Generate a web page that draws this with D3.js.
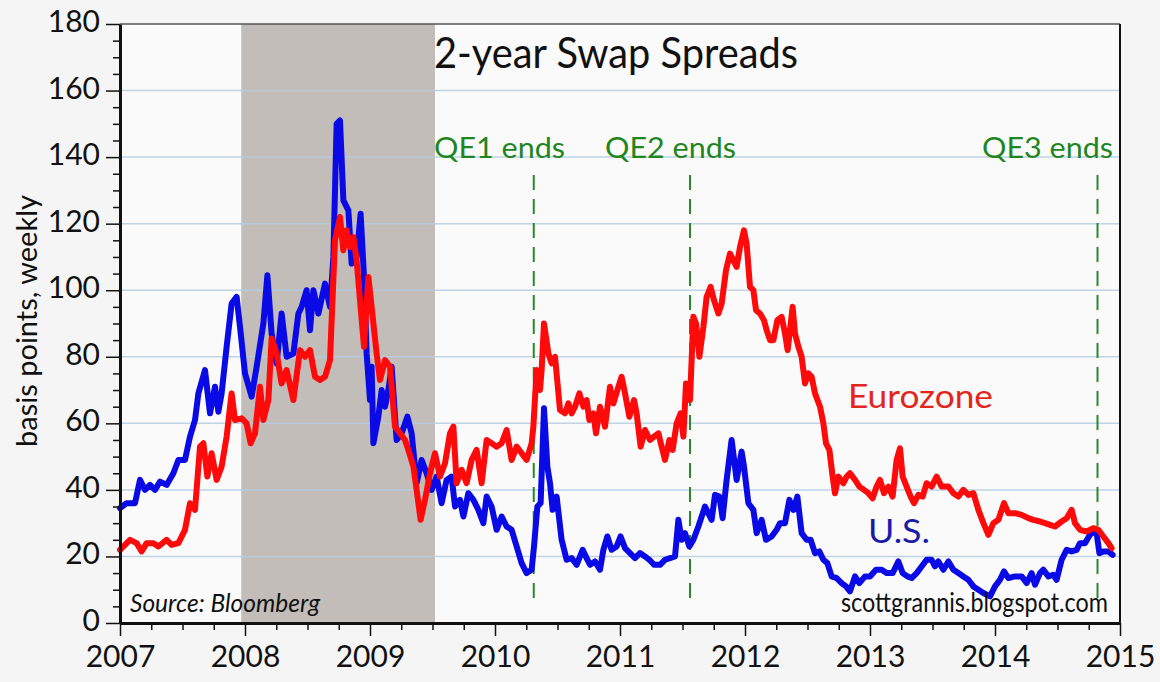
<!DOCTYPE html>
<html>
<head>
<meta charset="utf-8">
<script src="https://cdn.jsdelivr.net/npm/d3@7"></script>
<style>
  body { margin: 0; background: #f5f5f5; }
  svg { display: block; }
</style>
</head>
<body>
<script>
// values: [decimal year, basis points]
const usSeries = [
  [2007.000,34.5],[2007.053,36],[2007.120,36],[2007.160,43],[2007.200,40],[2007.240,41.5],[2007.280,40],[2007.320,42.5],
  [2007.373,41.5],[2007.427,45],[2007.467,49],[2007.520,49],[2007.560,56],[2007.600,61],[2007.627,69],[2007.680,76],
  [2007.720,63],[2007.760,71],[2007.787,63.5],[2007.813,69],[2007.853,83],[2007.893,96],[2007.933,98],[2007.960,89],
  [2008.000,75],[2008.053,68],[2008.093,77],[2008.147,90],[2008.179,104.5],[2008.213,87],[2008.253,78],[2008.293,93],
  [2008.333,80],[2008.387,81],[2008.427,93],[2008.453,95],[2008.493,100],[2008.520,88],[2008.547,100],[2008.587,93],
  [2008.640,102],[2008.680,95],[2008.707,110],[2008.733,150],[2008.760,151],[2008.787,127],[2008.827,124],[2008.853,108],
  [2008.893,110],[2008.925,123],[2008.952,104],[2008.973,81],[2009.000,67],[2009.013,77],[2009.027,54],[2009.067,62],
  [2009.093,70],[2009.120,65],[2009.147,70],[2009.173,77],[2009.213,55],[2009.253,57],[2009.299,62],[2009.333,57],
  [2009.373,42],[2009.413,49],[2009.453,45],[2009.493,40],[2009.533,44],[2009.573,36],[2009.613,43],[2009.653,44],
  [2009.680,35],[2009.720,37],[2009.747,32],[2009.787,39],[2009.827,37],[2009.867,34],[2009.907,30],[2009.933,38],
  [2009.973,35],[2010.013,28],[2010.053,32],[2010.093,29],[2010.133,28],[2010.173,23],[2010.213,18],[2010.253,15],
  [2010.293,16],[2010.312,23],[2010.339,35],[2010.365,36],[2010.392,64.5],[2010.419,47],[2010.440,42],[2010.461,34],
  [2010.493,38],[2010.533,25],[2010.573,19],[2010.613,19.5],[2010.653,17.5],[2010.701,22],[2010.733,19.5],[2010.760,17.5],
  [2010.800,18.5],[2010.840,16],[2010.867,22],[2010.899,26],[2010.933,22],[2010.973,23],[2011.005,26],[2011.040,22.5],
  [2011.080,21],[2011.120,19.5],[2011.160,21],[2011.200,20],[2011.235,19],[2011.272,17.5],[2011.320,17.5],[2011.360,19],
  [2011.400,19.5],[2011.440,20],[2011.467,31],[2011.493,25],[2011.520,27],[2011.555,23],[2011.587,25],[2011.627,29],
  [2011.680,35],[2011.733,31],[2011.760,38.5],[2011.795,38],[2011.821,31.5],[2011.853,43],[2011.893,55],[2011.933,43],
  [2011.973,51.5],[2011.992,47],[2012.027,36],[2012.067,34],[2012.093,27],[2012.133,31],[2012.168,25],[2012.213,26],
  [2012.253,28],[2012.280,30],[2012.320,30],[2012.355,37],[2012.387,34],[2012.419,38],[2012.453,27],[2012.493,25],
  [2012.525,25],[2012.560,21],[2012.595,21.5],[2012.627,19],[2012.659,18],[2012.693,14],[2012.733,13.5],[2012.773,12],
  [2012.808,11],[2012.840,9.5],[2012.880,14],[2012.915,12],[2012.960,14],[2013.000,14],[2013.048,16],[2013.093,16],
  [2013.133,15],[2013.181,15],[2013.227,18.5],[2013.261,15],[2013.299,14],[2013.333,13.5],[2013.373,15],[2013.413,17],
  [2013.453,19],[2013.493,19],[2013.520,17],[2013.547,18.5],[2013.587,16],[2013.627,18.5],[2013.667,16],[2013.707,15],
  [2013.747,14],[2013.787,13],[2013.827,11],[2013.867,10],[2013.907,9],[2013.960,8],[2014.000,11],[2014.040,13],
  [2014.072,15.5],[2014.107,13.5],[2014.160,14],[2014.213,14],[2014.253,12],[2014.293,15],[2014.320,11.5],[2014.360,15],
  [2014.387,16],[2014.427,14],[2014.467,14.5],[2014.493,13],[2014.533,19],[2014.573,22],[2014.613,21.5],[2014.653,22],
  [2014.680,24],[2014.720,24],[2014.760,26.5],[2014.792,27.5],[2014.813,27],[2014.835,21],[2014.867,21.5],[2014.907,21.5],
  [2014.941,20.5]
];

const euSeries = [
  [2007.000,22],[2007.080,25],[2007.133,24],[2007.173,21.5],[2007.213,24],[2007.267,24],[2007.307,23],[2007.373,25],
  [2007.413,23.5],[2007.467,24],[2007.520,28],[2007.560,36],[2007.600,34],[2007.640,53],[2007.667,54],[2007.699,44],
  [2007.733,51],[2007.773,43],[2007.813,47],[2007.853,56],[2007.893,69],[2007.920,61],[2007.973,61.5],[2008.013,60],
  [2008.045,54],[2008.080,57],[2008.120,71],[2008.147,61],[2008.187,67],[2008.213,85.5],[2008.253,81],[2008.293,72],
  [2008.333,76],[2008.387,67],[2008.440,82],[2008.480,80],[2008.520,82],[2008.560,74],[2008.600,73],[2008.640,74],
  [2008.680,79],[2008.720,115],[2008.760,122],[2008.787,112],[2008.813,118],[2008.840,113],[2008.867,116],[2008.893,109],
  [2008.920,97],[2008.952,83],[2008.987,104],[2009.013,95],[2009.053,81],[2009.080,73],[2009.120,79],[2009.160,77],
  [2009.200,59],[2009.240,57],[2009.280,55],[2009.307,52],[2009.347,47],[2009.373,40],[2009.405,31],[2009.440,37],
  [2009.480,45],[2009.520,51],[2009.560,44],[2009.600,48],[2009.640,57],[2009.667,59],[2009.693,42],[2009.733,46],
  [2009.773,42],[2009.813,49],[2009.853,52],[2009.893,42],[2009.933,55],[2009.973,54],[2010.013,53],[2010.053,54],
  [2010.093,58],[2010.133,49],[2010.173,53],[2010.213,51],[2010.253,49],[2010.293,54],[2010.307,59],[2010.333,76],
  [2010.360,70],[2010.373,76],[2010.392,90],[2010.427,81],[2010.453,78],[2010.480,80],[2010.520,64],[2010.560,63],
  [2010.587,66],[2010.613,63],[2010.640,65],[2010.675,69],[2010.707,65],[2010.733,67],[2010.755,61],[2010.787,63],
  [2010.808,57],[2010.840,65],[2010.880,59],[2010.920,71],[2010.947,66],[2010.979,70],[2011.013,74],[2011.040,69],
  [2011.075,62],[2011.112,67],[2011.133,63],[2011.165,53],[2011.200,58],[2011.240,55],[2011.272,56],[2011.307,57],
  [2011.333,53],[2011.360,49],[2011.395,55],[2011.421,52],[2011.453,60],[2011.485,63],[2011.507,56],[2011.528,72],
  [2011.560,67],[2011.587,92],[2011.608,90],[2011.635,80],[2011.667,89],[2011.693,98],[2011.725,101],[2011.752,97],
  [2011.787,93],[2011.813,96],[2011.848,106],[2011.880,111],[2011.933,107],[2011.960,113],[2011.992,118],[2012.013,114],
  [2012.040,101],[2012.067,100],[2012.088,94],[2012.120,93],[2012.152,91],[2012.173,88],[2012.200,85],[2012.227,85],
  [2012.259,91],[2012.293,92],[2012.320,87],[2012.341,82],[2012.360,88],[2012.381,95],[2012.400,87],[2012.427,83],
  [2012.453,80],[2012.480,72],[2012.507,75],[2012.533,74],[2012.560,69],[2012.600,65],[2012.627,60],[2012.648,54],
  [2012.675,52],[2012.701,44],[2012.720,39],[2012.747,44],[2012.787,42],[2012.813,44],[2012.840,45],[2012.880,43],
  [2012.915,41],[2012.952,40],[2012.987,39],[2013.021,37.5],[2013.053,41],[2013.080,43],[2013.112,39],[2013.147,41],
  [2013.181,38],[2013.213,49],[2013.240,52.5],[2013.261,44],[2013.293,41],[2013.325,38],[2013.352,36],[2013.387,38.5],
  [2013.421,38],[2013.453,42],[2013.493,41],[2013.533,44],[2013.573,41],[2013.627,41],[2013.667,39],[2013.707,38],
  [2013.747,40],[2013.787,38.5],[2013.827,39],[2013.867,34],[2013.907,30],[2013.947,26.5],[2013.987,30],[2014.027,31],
  [2014.072,36],[2014.107,33],[2014.160,33],[2014.213,32.5],[2014.267,31.5],[2014.307,31],[2014.360,30.5],[2014.400,30],
  [2014.440,29.5],[2014.480,29],[2014.533,30.5],[2014.573,31.5],[2014.613,34],[2014.640,30],[2014.680,28],[2014.733,27.5],
  [2014.787,28.5],[2014.827,28],[2014.867,26],[2014.907,24],[2014.933,22.5]
];

const yearTicks = [2007, 2008, 2009, 2010, 2011, 2012, 2013, 2014, 2015];
const valueTicks = [0, 20, 40, 60, 80, 100, 120, 140, 160, 180];
const recession = [2007.97, 2009.52];
const qeDates = [2010.31, 2011.56, 2014.82];
const qeLabels = ["QE1 ends", "QE2 ends", "QE3 ends"];

// layout
const W = 1160, H = 682;
const FONT = "Lato, 'DejaVu Sans', sans-serif";
const qeLabelStart = [434, 605, 982];

const x = d3.scaleLinear().domain([2007, 2015]).range([120, 1120]);
const y = d3.scaleLinear().domain([0, 180]).range([623, 24]);

const svg = d3.select("body").append("svg").attr("width", W).attr("height", H);

svg.append("rect").attr("width", W).attr("height", H).attr("fill", "#f5f5f5");
svg.append("rect")
    .attr("x", x(2007)).attr("y", y(180))
    .attr("width", x(2015) - x(2007)).attr("height", y(0) - y(180))
    .attr("fill", "#fafafa");

// recession shading
svg.append("rect")
    .attr("x", x(recession[0])).attr("y", y(180))
    .attr("width", x(recession[1]) - x(recession[0]))
    .attr("height", y(0) - y(180))
    .attr("fill", "#c3bdb9");

// gridlines
svg.append("g").selectAll("line")
    .data(valueTicks.filter(v => v > 0 && v < 180))
    .join("line")
    .attr("x1", x(2007)).attr("x2", x(2015))
    .attr("y1", d => y(d)).attr("y2", d => y(d))
    .attr("stroke", "#b5cde2").attr("stroke-opacity", 0.85).attr("stroke-width", 1.5);

// frame top and right
svg.append("line").attr("x1", x(2007)).attr("x2", x(2015)).attr("y1", y(180)).attr("y2", y(180))
    .attr("stroke", "#555").attr("stroke-width", 1.5);
svg.append("line").attr("x1", x(2015)).attr("x2", x(2015)).attr("y1", y(180)).attr("y2", y(0))
    .attr("stroke", "#111").attr("stroke-width", 2);

// QE lines
svg.append("g").selectAll("line")
    .data(qeDates)
    .join("line")
    .attr("x1", d => x(d)).attr("x2", d => x(d))
    .attr("y1", 175).attr("y2", 606)
    .attr("stroke", "#2a8a2a").attr("stroke-width", 2)
    .attr("stroke-dasharray", "15,9");

const line = d3.line().x(d => x(d[0])).y(d => y(d[1]));

svg.append("path").datum(usSeries)
    .attr("d", line).attr("fill", "none")
    .attr("stroke", "#0a0ae6").attr("stroke-width", 6)
    .attr("stroke-linejoin", "round").attr("stroke-linecap", "round");

svg.append("path").datum(euSeries)
    .attr("d", line).attr("fill", "none")
    .attr("stroke", "#ff0a0a").attr("stroke-width", 6)
    .attr("stroke-linejoin", "round").attr("stroke-linecap", "round");

// axes
const minorY = d3.range(0, 181, 5).filter(v => v % 20 !== 0);
const minorX = d3.range(2007, 2015, 0.25).filter(v => v % 1 !== 0);

svg.append("g").attr("transform", `translate(${x(2007)},0)`)
    .call(d3.axisLeft(y).tickValues(minorY).tickSize(7).tickFormat(""))
    .call(g => g.select(".domain").remove())
    .call(g => g.selectAll("line").attr("stroke", "#111").attr("stroke-width", 1.5));

const yAxis = svg.append("g").attr("transform", `translate(${x(2007)},0)`)
    .call(d3.axisLeft(y).tickValues(valueTicks).tickSize(14).tickPadding(6).tickSizeOuter(0));
yAxis.select(".domain").attr("stroke", "#111").attr("stroke-width", 3);
yAxis.selectAll("line").attr("stroke", "#111").attr("stroke-width", 1.5);
yAxis.selectAll("text")
    .attr("font-family", FONT).attr("font-size", 30).attr("fill", "#111")
    .attr("dy", "0.25em");

svg.append("g").attr("transform", `translate(0,${y(0)})`)
    .call(d3.axisBottom(x).tickValues(minorX).tickSize(7).tickFormat(""))
    .call(g => g.select(".domain").remove())
    .call(g => g.selectAll("line").attr("stroke", "#111").attr("stroke-width", 1.5));

const xAxis = svg.append("g").attr("transform", `translate(0,${y(0)})`)
    .call(d3.axisBottom(x).tickValues(yearTicks).tickSize(13).tickSizeOuter(0).tickFormat(d3.format("d")));
xAxis.select(".domain").attr("stroke", "#111").attr("stroke-width", 3);
xAxis.selectAll("line").attr("stroke", "#111").attr("stroke-width", 1.5);
xAxis.selectAll("text")
    .attr("font-family", FONT).attr("font-size", 30).attr("fill", "#111")
    .attr("y", 44).attr("dy", null);

// texts
svg.append("text")
    .attr("x", 25).attr("y", 321)
    .attr("transform", "rotate(-90,25,321)")
    .attr("text-anchor", "middle").attr("dominant-baseline", "central")
    .attr("font-family", FONT).attr("font-size", 29).attr("fill", "#111")
    .text("basis points, weekly");

svg.append("text")
    .attr("x", 434).attr("y", 68)
    .attr("font-family", FONT).attr("font-size", 42).attr("fill", "#111")
    .attr("textLength", 364).attr("lengthAdjust", "spacingAndGlyphs")
    .text("2-year Swap Spreads");

svg.append("g").selectAll("text")
    .data(qeLabels)
    .join("text")
    .attr("x", (d, i) => qeLabelStart[i]).attr("y", 158)
    .attr("font-family", FONT).attr("font-size", 29).attr("fill", "#1f861f")
    .attr("textLength", 131).attr("lengthAdjust", "spacingAndGlyphs")
    .text(d => d);

svg.append("text")
    .attr("x", 848).attr("y", 408)
    .attr("font-family", FONT).attr("font-size", 32).attr("fill", "#e3261b")
    .attr("textLength", 145).attr("lengthAdjust", "spacingAndGlyphs")
    .text("Eurozone");

svg.append("text")
    .attr("x", 868).attr("y", 543)
    .attr("font-family", FONT).attr("font-size", 32).attr("fill", "#1a1aa8")
    .attr("textLength", 62).attr("lengthAdjust", "spacingAndGlyphs")
    .text("U.S.");

svg.append("text")
    .attr("x", 130).attr("y", 612)
    .attr("font-family", FONT).attr("font-size", 26).attr("font-style", "italic").attr("fill", "#111")
    .attr("textLength", 190).attr("lengthAdjust", "spacingAndGlyphs")
    .text("Source: Bloomberg");

svg.append("text")
    .attr("x", 841).attr("y", 612)
    .attr("font-family", FONT).attr("font-size", 26).attr("fill", "#111")
    .attr("textLength", 267).attr("lengthAdjust", "spacingAndGlyphs")
    .text("scottgrannis.blogspot.com");
</script>
</body>
</html>
